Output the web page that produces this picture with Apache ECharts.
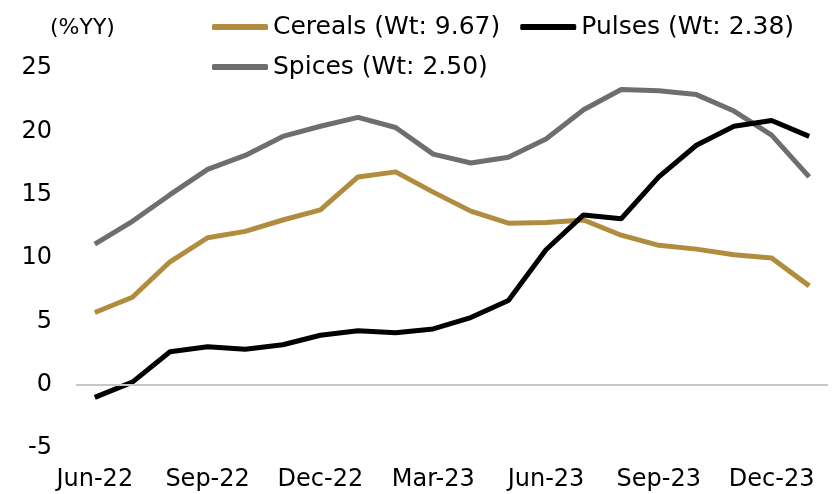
<!DOCTYPE html>
<html>
<head>
<meta charset="utf-8">
<script src="https://cdn.jsdelivr.net/npm/echarts@6/dist/echarts.min.js"></script>
<style>
  html, body { margin: 0; padding: 0; background: #fff; }
  #chart { width: 834px; height: 494px; }
</style>
</head>
<body>
<div id="chart"></div>
<script>
// monthly, Jun-22 .. Jan-24
const months = ['Jun-22','Jul-22','Aug-22','Sep-22','Oct-22','Nov-22','Dec-22','Jan-23','Feb-23','Mar-23',
                'Apr-23','May-23','Jun-23','Jul-23','Aug-23','Sep-23','Oct-23','Nov-23','Dec-23','Jan-24']
const cereals = [5.7, 6.9, 9.7, 11.6, 12.1, 13.0, 13.8, 16.4, 16.8, 15.2,
                 13.7, 12.75, 12.8, 13.0, 11.8, 11.0, 10.7, 10.25, 10.0, 7.8]
const pulses  = [-1.0, 0.2, 2.6, 3.0, 2.8, 3.15, 3.9, 4.25, 4.1, 4.4,
                 5.3, 6.65, 10.65, 13.4, 13.1, 16.4, 18.9, 20.4, 20.85, 19.6]
const spices  = [11.1, 12.9, 15.0, 17.0, 18.1, 19.6, 20.4, 21.1, 20.3, 18.2,
                 17.5, 17.95, 19.4, 21.7, 23.3, 23.2, 22.9, 21.6, 19.7, 16.4]
const seriesNames = ['Cereals (Wt: 9.67)', 'Pulses (Wt: 2.38)', 'Spices (Wt: 2.50)']

const chart = echarts.init(document.getElementById('chart'))
const axisFont = { fontFamily: 'DejaVu Sans', fontSize: 24, color: '#000' }
const legendBase = {
    left: 207,
    icon: 'roundRect',
    itemWidth: 56,
    itemHeight: 6,
    itemGap: 20,
    textStyle: { fontFamily: 'DejaVu Sans', fontSize: 25, color: '#000', lineHeight: 30 }
}

chart.setOption({
    animation: false,
    color: ['#b08d3e', '#000000', '#6e6e6e'],
    graphic: [{
        type: 'text',
        left: 50,
        top: 17,
        style: { text: '(%YY)', font: '22px "DejaVu Sans"', fill: '#000' }
    }],
    legend: [
        Object.assign({ top: 7, data: [seriesNames[0], seriesNames[1]] }, legendBase),
        Object.assign({ top: 47, data: [seriesNames[2]] }, legendBase)
    ],
    grid: { left: 76, right: 6, top: 68, bottom: 46, containLabel: false },
    xAxis: {
        type: 'category',
        data: months,
        boundaryGap: true,
        axisLine: { show: false },
        axisTick: { show: false },
        axisLabel: Object.assign({ interval: 2, margin: 20 }, axisFont),
        splitLine: { show: false }
    },
    yAxis: {
        type: 'value',
        min: -5,
        max: 25,
        interval: 5,
        axisLine: { show: false },
        axisTick: { show: false },
        splitLine: { show: false },
        axisLabel: Object.assign({ margin: 24 }, axisFont)
    },
    series: [
        {
            name: seriesNames[0], type: 'line', data: cereals, symbol: 'none',
            lineStyle: { width: 5 }, z: 3,
            markLine: {
                silent: true, symbol: 'none', label: { show: false },
                lineStyle: { color: '#c8c8c8', width: 2, type: 'solid' },
                data: [{ yAxis: 0 }]
            }
        },
        { name: seriesNames[1], type: 'line', data: pulses, symbol: 'none', lineStyle: { width: 5 }, z: 4 },
        { name: seriesNames[2], type: 'line', data: spices, symbol: 'none', lineStyle: { width: 5 }, z: 2 }
    ]
})
</script>
</body>
</html>
